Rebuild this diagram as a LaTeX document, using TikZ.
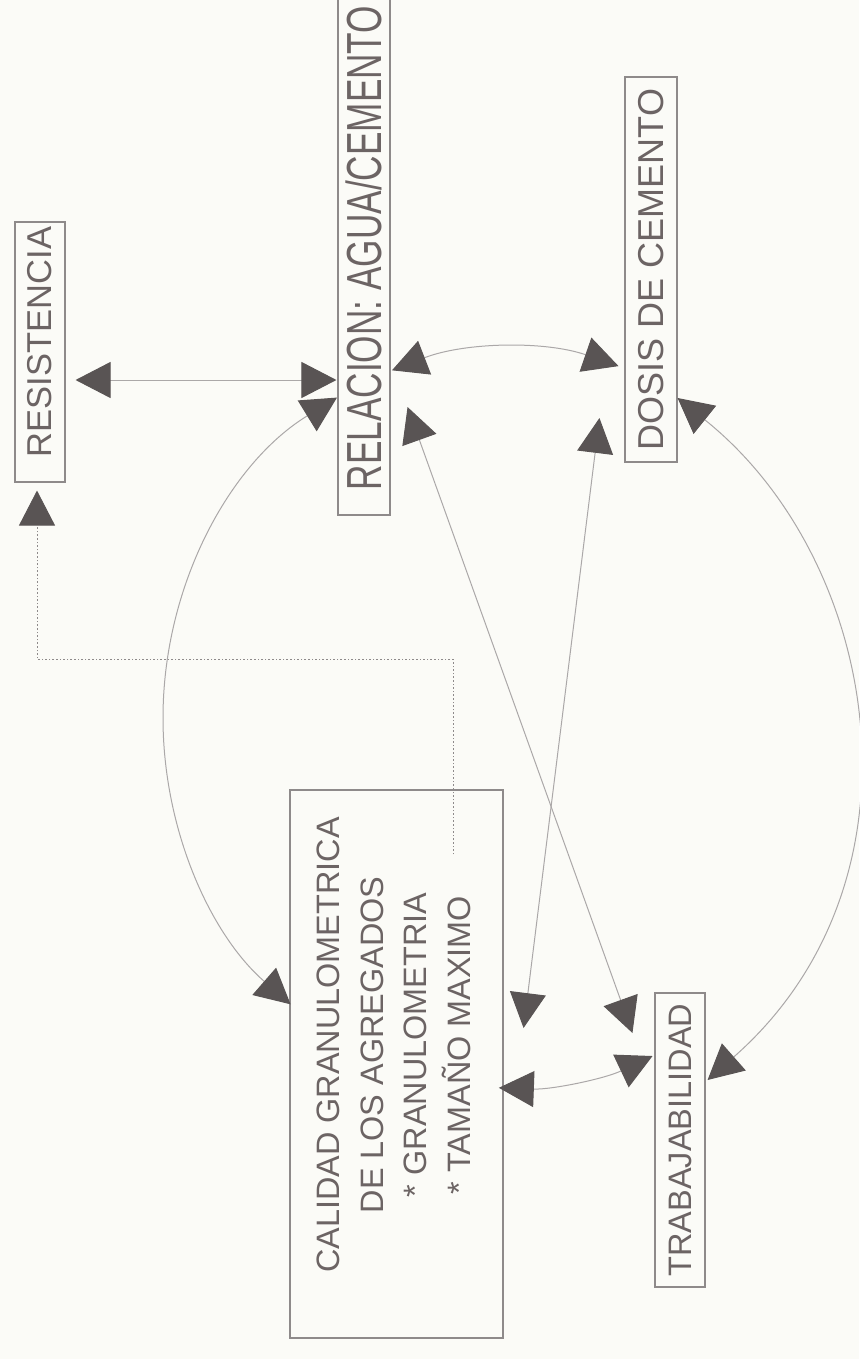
\documentclass[tikz,border=0pt]{standalone}
\usepackage{graphicx}
\usepackage{fontspec}
\setmainfont{Liberation Sans}
\usetikzlibrary{arrows.meta,calc}

\definecolor{paper}{HTML}{FBFBF7}
\definecolor{ink}{HTML}{6C6464}
\definecolor{frame}{HTML}{8E8A8A}
\definecolor{wire}{HTML}{ABA8A8}
\definecolor{head}{HTML}{595454}

\begin{document}
\begin{tikzpicture}[x=1pt,y=-1pt,
  conceptbox/.style={draw=frame, line width=1.1pt, inner sep=0pt, text=ink},
  bigtip/.tip={Triangle[length=35pt,width=36pt,color=head,fill=head]},
  link/.style={draw=wire, line width=1pt, bigtip-bigtip},
  dotlink/.style={draw=frame, line width=0.8pt, dash pattern=on 1.6pt off 2pt, -bigtip}]

% page
\fill[paper] (0,0) rectangle (859,1359);
\useasboundingbox (0,0) rectangle (859,1359);

% concept boxes (text runs bottom to top)
\node[conceptbox, minimum width=50, minimum height=260] (res) at (40,352)
  {\rotatebox{90}{\fontsize{34.5}{40}\selectfont\hspace*{20pt}RESISTENCIA}};
\node[conceptbox, minimum width=52, minimum height=525] (rel) at (364,252.5)
  {\rotatebox{90}{\fontsize{35.2}{40}\selectfont\hspace*{9pt}\scalebox{1}[1.4]{RELACION: AGUA/CEMENTO}}};
\node[conceptbox, minimum width=52, minimum height=385] (dos) at (651,269.5)
  {\rotatebox{90}{\fontsize{36}{40}\selectfont DOSIS DE CEMENTO}};
\node[conceptbox, minimum width=50, minimum height=294] (tra) at (680,1140)
  {\rotatebox{90}{\fontsize{32.5}{40}\selectfont TRABAJABILIDAD}};
\node[conceptbox, minimum width=213, minimum height=548] (cal) at (396.5,1064)
  {\rotatebox{90}{\fontsize{32.4}{43.5}\selectfont
   \begin{tabular}{@{\hspace{38pt}}c@{}}
   CALIDAD GRANULOMETRICA\\
   DE LOS AGREGADOS\\
   {*} GRANULOMETRIA\\
   {*} TAMAÑO MAXIMO
   \end{tabular}}};

% straight two-way links
\draw[link] ($(res.east)+(10,28)$) -- ($(rel.west)+(-1,127.5)$);
\draw[link] ($(rel.east)+(17,154.5)$) -- ($(tra.west)+(-22,-107)$);
\draw[link] ($(dos.west)+(-25,148.5)$) -- ($(cal.east)+(20,-36)$);

% the ring of curved two-way links
\coordinate (hub) at (511,718);
\draw[link] ($(hub)+(240:348 and 370)$) arc[start angle=240, end angle=129.3, x radius=348, y radius=370];
\draw[link] ($(hub)+(250:348 and 370)$) arc[start angle=250, end angle=288, x radius=348, y radius=370];
\draw[link] ($(dos.east)+(0,128.5)$) .. controls (880,560) and (935,880) .. ($(tra.east)+(2,-60)$);
\draw[link] ($(hub)+(66:348 and 370)$) arc[start angle=66, end angle=92, x radius=348, y radius=370];

% dotted feed from the aggregates to the strength
\draw[dotlink] ($(cal.north)+(56.5,65)$) -- ++(0,-195) -| ($(res.south)+(-3,8)$);
\end{tikzpicture}
\end{document}
